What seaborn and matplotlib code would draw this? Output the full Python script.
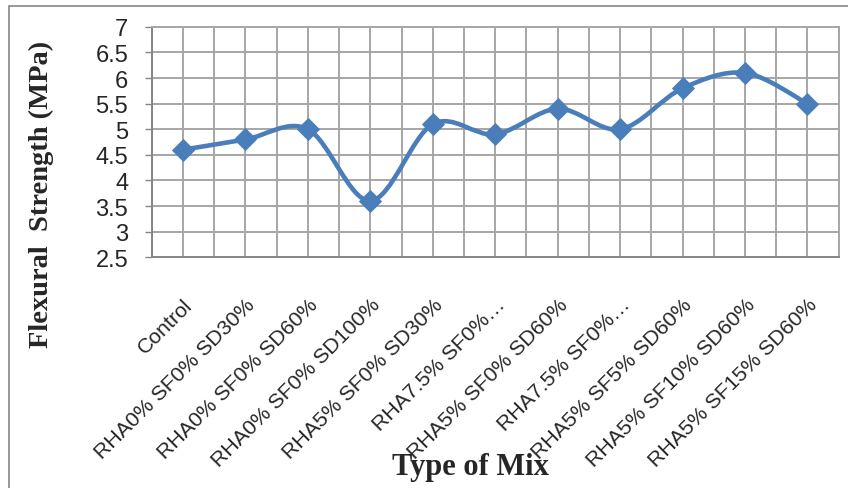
import matplotlib
matplotlib.use("Agg")
import matplotlib.pyplot as plt
import numpy as np
import pandas as pd
import seaborn as sns
from matplotlib.path import Path
from matplotlib.patches import PathPatch, Rectangle
from matplotlib.transforms import offset_copy

# data
mixes = ["Control", "RHA0% SF0% SD30%", "RHA0% SF0% SD60%", "RHA0% SF0% SD100%",
         "RHA5% SF0% SD30%", "RHA7.5% SF0%\u2026", "RHA5% SF0% SD60%", "RHA7.5% SF0%\u2026",
         "RHA5% SF5% SD60%", "RHA5% SF10% SD60%", "RHA5% SF15% SD60%"]
strength = [4.6, 4.8, 5.0, 3.6, 5.1, 4.9, 5.4, 5.0, 5.8, 6.1, 5.5]
yticks = [2.5, 3, 3.5, 4, 4.5, 5, 5.5, 6, 6.5, 7]

df = pd.DataFrame({"pos": range(len(mixes)), "mix": mixes, "strength": strength})

sns.set_style("white")
plt.rcParams["font.family"] = ["Liberation Sans", "DejaVu Sans"]

blue = "#4a7ebb"
grid = "#a6a6a6"

fig = plt.figure(figsize=(8.48, 4.89), dpi=100)
ax = fig.add_axes([0.179, 0.472, 0.810, 0.471])

# smoothed line (Excel-style), bezier control points from the data
x = df["pos"].to_numpy(float)
y = df["strength"].to_numpy(float)
pts = np.column_stack([x, y])
verts = [pts[0]]
codes = [Path.MOVETO]
n = len(pts)
for i in range(n - 1):
    p0 = pts[max(i - 1, 0)]
    p1 = pts[i]
    p2 = pts[i + 1]
    p3 = pts[min(i + 2, n - 1)]
    c1 = p1 + (p2 - p0) / 6
    c2 = p2 - (p3 - p1) / 6
    verts += [c1, c2, p2]
    codes += [Path.CURVE4] * 3
ax.add_patch(PathPatch(Path(verts, codes), facecolor="none", edgecolor=blue,
                       lw=3.3, capstyle="round", joinstyle="round", zorder=3))

sns.scatterplot(data=df, x="pos", y="strength", marker="D", s=140, color=blue,
                edgecolor=blue, linewidth=0, ax=ax, zorder=4)

ax.set_xlim(-0.5, len(mixes) - 0.5)
ax.set_ylim(2.5, 7)
ax.set_yticks(yticks)
ax.set_yticklabels([f"{t:g}" for t in yticks], fontsize=17)
ax.set_xticks(df["pos"])
ax.set_xticklabels(mixes, rotation=45, ha="right", va="top", rotation_mode="anchor",
                   fontsize=15.3)
shift = offset_copy(ax.transData, fig=fig, x=3, y=0, units="dots")
for lab in ax.get_xticklabels():
    lab.set_transform(lab.get_transform() + matplotlib.transforms.ScaledTranslation(3 / 100, 0, fig.dpi_scale_trans))
ax.set_xticks(np.arange(-0.5, len(mixes), 1.0), minor=True)
ax.grid(True, which="both", axis="x", color=grid, lw=1.4)
ax.grid(True, which="major", axis="y", color=grid, lw=1.4)
ax.tick_params(axis="x", which="both", length=0, pad=27)
ax.tick_params(axis="y", length=5, color="#868686", width=1, pad=12, left=True)

for side in ["top", "right", "bottom", "left"]:
    ax.spines[side].set_color(grid)
    ax.spines[side].set_linewidth(1.4)
ax.spines["left"].set_color("#868686")
ax.spines["bottom"].set_color("#868686")

ax.set_xlabel("")
ax.set_ylabel("")
fig.text(0.049, 0.603, "Flexural  Strength (MPa)", rotation=90, ha="center", va="center",
         fontsize=20.5, fontweight="bold", family=["Liberation Serif", "DejaVu Serif"])
fig.text(0.555, 0.043, "Type of Mix", ha="center", va="center",
         fontsize=22, fontweight="bold", family=["Liberation Serif", "DejaVu Serif"])

# outer chart frame
fig.patches.append(Rectangle((0.011, -0.05), 1.05, 1.036, transform=fig.transFigure,
                             fill=False, edgecolor="#868686", lw=1.2))

fig.savefig("out.png", dpi=100)
